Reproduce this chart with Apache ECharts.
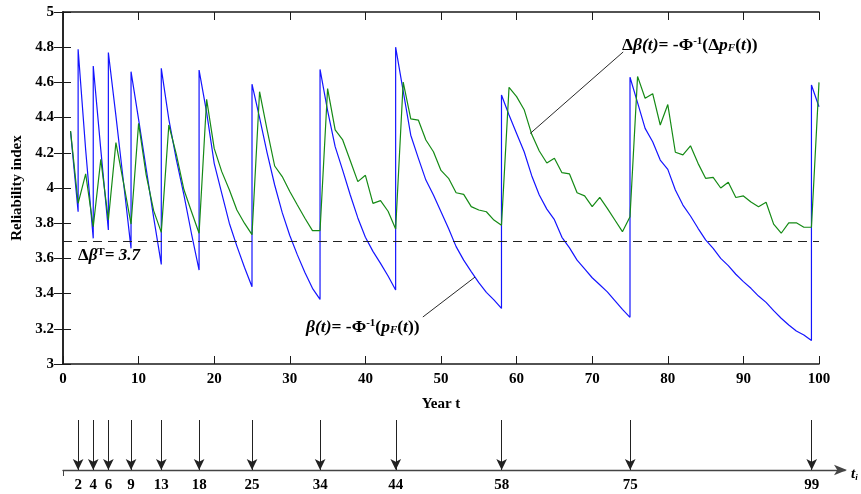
<!DOCTYPE html>
<html>
<head>
<meta charset="utf-8">
<script src="https://cdn.jsdelivr.net/npm/echarts@6/dist/echarts.min.js"></script>
<style>
html,body{margin:0;padding:0;background:#fff;}
#chart{width:861px;height:494px;}
</style>
</head>
<body>
<div id="chart"></div>
<script>
// ---- data ----
const years = Array.from({length: 100}, (_, i) => i + 1);
// beta(t) before repair at each year
const blueValues = [
  4.32, 3.865, 4.216, 3.714, 4.218, 3.761, 4.41, 4.034, 3.657, 4.39,
  4.11, 3.83, 3.566, 4.39, 4.16, 3.96, 3.74, 3.534, 4.43, 4.14,
  3.97, 3.80, 3.67, 3.55, 3.439, 4.40, 4.20, 4.017, 3.86, 3.73,
  3.62, 3.52, 3.43, 3.367, 4.44, 4.235, 4.10, 3.96, 3.83, 3.72,
  3.64, 3.572, 3.50, 3.42, 4.55, 4.30, 4.17, 4.045, 3.96, 3.865,
  3.77, 3.667, 3.59, 3.525, 3.462, 3.407, 3.364, 3.316, 4.415, 4.31,
  4.206, 4.07, 3.96, 3.88, 3.82, 3.72, 3.66, 3.59, 3.54, 3.49,
  3.45, 3.41, 3.36, 3.31, 3.265, 4.485, 4.339, 4.263, 4.159, 4.106,
  3.989, 3.903, 3.841, 3.771, 3.705, 3.657, 3.60, 3.559, 3.51, 3.468,
  3.43, 3.386, 3.35, 3.303, 3.26, 3.222, 3.188, 3.165, 3.133, 4.462
];
// inspection / repair times and beta right after repair
const inspectTimes = [2, 4, 6, 9, 13, 18, 25, 34, 44, 58, 75, 99];
const blueAfterRepair = [4.788, 4.693, 4.77, 4.661, 4.68, 4.67, 4.59, 4.674, 4.80, 4.528, 4.629, 4.585];
// delta beta(t)
const greenValues = [
  4.324, 3.913, 4.08, 3.78, 4.163, 3.818, 4.258, 4.03, 3.795, 4.367,
  4.075, 3.87, 3.748, 4.358, 4.19, 3.99, 3.865, 3.743, 4.504, 4.225,
  4.093, 3.99, 3.875, 3.80, 3.735, 4.547, 4.33, 4.125, 4.065, 3.98,
  3.903, 3.828, 3.758, 3.758, 4.565, 4.33, 4.273, 4.155, 4.036, 4.072,
  3.913, 3.928, 3.868, 3.767, 4.602, 4.393, 4.386, 4.273, 4.206, 4.10,
  4.055, 3.973, 3.964, 3.894, 3.875, 3.865, 3.818, 3.788, 4.572, 4.519,
  4.445, 4.305, 4.21, 4.142, 4.169, 4.087, 4.08, 3.973, 3.955, 3.894,
  3.947, 3.884, 3.818, 3.752, 3.837, 4.634, 4.51, 4.536, 4.358, 4.474,
  4.203, 4.188, 4.24, 4.14, 4.055, 4.06, 4.0, 4.033, 3.946, 3.955,
  3.92, 3.894, 3.919, 3.795, 3.743, 3.802, 3.802, 3.777, 3.777, 4.60
];
const targetBeta = 3.7;
// leader lines for the annotations (data coordinates)
const leaderGreen = [[61.8, 4.31], [74.1, 4.773]];
const leaderBlue = [[54.5, 3.494], [47.6, 3.267]];

// ---- build series data ----
const blueData = [];
years.forEach((t, i) => {
  blueData.push([t, blueValues[i]]);
  const k = inspectTimes.indexOf(t);
  if (k >= 0) blueData.push([t, blueAfterRepair[k]]);
});
const greenData = years.map((t, i) => [t, greenValues[i]]);

const FONT = '"Liberation Serif", "Times New Roman", serif';
const axisColor = '#1a1a1a';
const lblStyle = {fontFamily: FONT, fontWeight: 'bold', fontSize: 15, color: '#000'};

const chart = echarts.init(document.getElementById('chart'), null, {renderer: 'canvas'});

function richSet(size) {
  const s = Math.round(size * 0.62);
  return {
    n: {fontFamily: FONT, fontWeight: 'bold', fontSize: size, color: '#000'},
    i: {fontFamily: FONT, fontWeight: 'bold', fontStyle: 'italic', fontSize: size, color: '#000'},
    sup: {fontFamily: FONT, fontWeight: 'bold', fontSize: s, color: '#000', verticalAlign: 'top', padding: [0, 0, 7, 0]},
    sub: {fontFamily: FONT, fontWeight: 'bold', fontStyle: 'italic', fontSize: s, color: '#000', verticalAlign: 'bottom', padding: [6, 0, 0, 0]}
  };
}

const option = {
  animation: false,
  backgroundColor: '#fff',
  grid: [
    {left: 63, right: 42, top: 12, bottom: 130},
    {left: 63, right: 16, top: 420, bottom: 24}
  ],
  xAxis: [
    {
      gridIndex: 0, type: 'value', min: 0, max: 100, interval: 10,
      name: 'Year t', nameLocation: 'middle', nameGap: 33,
      nameTextStyle: lblStyle,
      axisLine: {lineStyle: {color: axisColor, width: 1.5}},
      axisTick: {inside: true, length: 8, lineStyle: {color: axisColor}},
      axisLabel: Object.assign({margin: 8}, lblStyle),
      splitLine: {show: false}
    },
    {
      gridIndex: 0, type: 'value', min: 0, max: 100, interval: 10, position: 'top',
      axisLine: {lineStyle: {color: axisColor, width: 1.5}},
      axisTick: {inside: true, length: 8, lineStyle: {color: axisColor}},
      axisLabel: {show: false}, splitLine: {show: false}
    },
    {
      gridIndex: 1, type: 'value', min: 0, max: 103.4,
      axisLine: {show: true, symbol: ['none', 'arrow'], symbolSize: [8, 13], symbolOffset: [0, 2],
                 lineStyle: {color: '#444', width: 1.3}},
      axisTick: {show: true, customValues: [0], length: 6, lineStyle: {color: '#444'}},
      axisLabel: Object.assign({customValues: inspectTimes, margin: 8}, lblStyle),
      splitLine: {show: false}
    }
  ],
  yAxis: [
    {
      gridIndex: 0, type: 'value', min: 3, max: 5, interval: 0.2,
      name: 'Reliability index', nameLocation: 'middle', nameGap: 36,
      nameTextStyle: lblStyle,
      axisLine: {lineStyle: {color: axisColor, width: 1.5}},
      axisTick: {inside: true, length: 8, lineStyle: {color: axisColor}},
      axisLabel: Object.assign({margin: 9, formatter: v => String(+v.toFixed(1))}, lblStyle),
      splitLine: {show: false}
    },
    {
      gridIndex: 0, type: 'value', min: 3, max: 5, interval: 0.2, position: 'right',
      axisLine: {lineStyle: {color: axisColor, width: 1.5}},
      axisTick: {inside: true, length: 9, lineStyle: {color: axisColor}},
      axisLabel: {show: false}, splitLine: {show: false}
    },
    {gridIndex: 1, type: 'value', min: 0, max: 1, show: false}
  ],
  series: [
    {
      name: 'beta', type: 'line', xAxisIndex: 0, yAxisIndex: 0,
      data: blueData, showSymbol: false, symbol: 'none',
      lineStyle: {color: '#1414ff', width: 1.2},
      markLine: {
        silent: true, symbol: 'none', label: {show: false},
        lineStyle: {color: '#222', type: [9, 6], width: 1},
        data: [
          {yAxis: targetBeta},
          [{coord: leaderBlue[0], lineStyle: {type: 'solid', color: '#111', width: 0.9}},
           {coord: leaderBlue[1]}]
        ]
      }
    },
    {
      name: 'dbeta', type: 'line', xAxisIndex: 0, yAxisIndex: 0,
      data: greenData, showSymbol: false, symbol: 'none',
      lineStyle: {color: '#158a15', width: 1.2},
      markLine: {
        silent: true, symbol: 'none', label: {show: false},
        lineStyle: {color: '#111', type: 'solid', width: 0.9},
        data: [[{coord: leaderGreen[0]}, {coord: leaderGreen[1]}]]
      }
    },
    {
      name: 'inspections', type: 'line', xAxisIndex: 2, yAxisIndex: 2,
      data: [], showSymbol: false,
      markLine: {
        silent: true, symbol: ['none', 'arrow'], symbolSize: [8, 11], label: {show: false},
        lineStyle: {color: '#222', type: 'solid', width: 1},
        data: inspectTimes.map(t => [{coord: [t, 1]}, {coord: [t, 0]}])
      }
    }
  ],
  graphic: [
    {
      type: 'text', left: 622, top: 36,
      style: {text: '{n|Δ}{i|β(t)}{n|= -Φ}{sup|-1}{n|(Δ}{i|p}{sub|F}{n|(}{i|t}{n|))}', rich: richSet(17.5)}
    },
    {
      type: 'text', left: 306, top: 318,
      style: {text: '{i|β(t)}{n|= -Φ}{sup|-1}{n|(}{i|p}{sub|F}{n|(}{i|t}{n|))}', rich: richSet(17.5)}
    },
    {
      type: 'text', left: 78, top: 247,
      style: {text: '{n|Δ}{i|β}{sup|T}{i|= 3.7}', rich: richSet(17)}
    },
    {
      type: 'text', left: 851, top: 467,
      style: {text: '{i|t}{sub|i}', rich: richSet(15)}
    }
  ]
};
chart.setOption(option);
</script>
</body>
</html>
